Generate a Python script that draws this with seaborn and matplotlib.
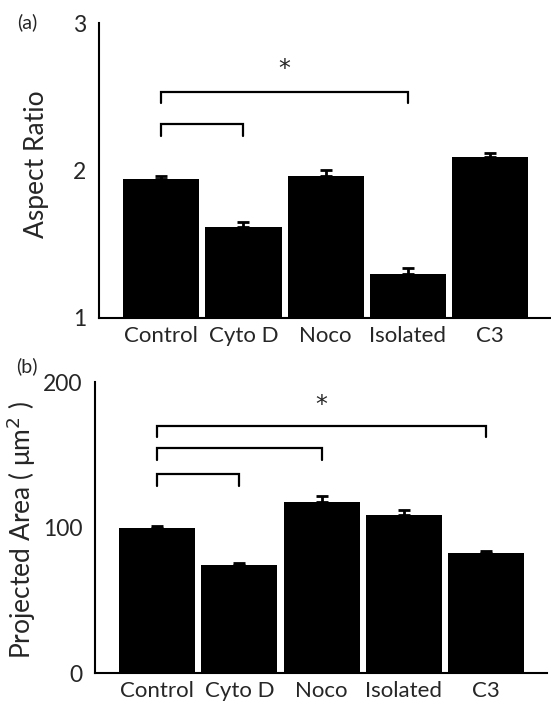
import matplotlib
matplotlib.use("Agg")
import matplotlib.pyplot as plt
import seaborn as sns
import pandas as pd
import numpy as np

categories = ["Control", "Cyto D", "Noco", "Isolated", "C3"]

aspect_ratio = [1.94, 1.62, 1.96, 1.30, 2.09]
aspect_err = [0.022, 0.032, 0.045, 0.037, 0.032]

proj_area = [99.5, 74.5, 117.5, 108.5, 82.5]
proj_err = [1.5, 1.2, 4.0, 3.5, 1.2]

# brackets: (from index, to index, bar height, leg bottom)
brackets_a = [(0, 3, 2.534, 2.458), (0, 1, 2.315, 2.234)]
star_a = (1.5, 2.69)
brackets_b = [(0, 4, 169.8, 162.4), (0, 2, 154.8, 146.4), (0, 1, 137.0, 128.7)]
star_b = (2.0, 184.0)

sns.set_style("white")
plt.rcParams["font.family"] = ["Lato", "DejaVu Sans"]

fig = plt.figure(figsize=(5.51, 7.06), dpi=100)
ax_a = fig.add_axes([0.1797, 0.5496, 0.8203, 0.4178])
ax_b = fig.add_axes([0.1724, 0.0467, 0.8203, 0.4122])

def panel(ax, vals, errs, ylim, yticks, ylabel, brackets, star, label_xy):
    df = pd.DataFrame({"cat": categories, "val": vals})
    sns.barplot(data=df, x="cat", y="val", color="black", width=0.925,
                saturation=1, errorbar=None, ax=ax)
    for p in ax.patches:
        p.set_facecolor("black")
        p.set_edgecolor("none")
    xs = np.arange(len(categories))
    ax.errorbar(xs, vals, yerr=[np.zeros(len(errs)), errs], fmt="none",
                ecolor="black", elinewidth=2, capsize=4.5, capthick=2)
    for i, j, top, bot in brackets:
        ax.plot([i, i, j, j], [bot, top, top, bot], color="black", lw=1.6,
                solid_joinstyle="miter", clip_on=False)
    ax.text(star[0], star[1], "*", ha="center", va="center", fontsize=17,
            family="DejaVu Sans")
    ax.set_ylim(*ylim)
    ax.set_yticks(yticks)
    ax.set_xlim(-0.757, 4.74)
    ax.set_xlabel("")
    ax.set_ylabel(ylabel, fontsize=19)
    ax.yaxis.set_label_coords(*label_xy)
    ax.tick_params(axis="both", length=0)
    ax.tick_params(axis="y", labelsize=16.5, pad=9)
    ax.tick_params(axis="x", labelsize=16, pad=6)
    for s in ["top", "right"]:
        ax.spines[s].set_visible(False)
    for s in ["left", "bottom"]:
        ax.spines[s].set_linewidth(1.5)
        ax.spines[s].set_color("black")

panel(ax_a, aspect_ratio, aspect_err, (1, 3), [1, 2, 3], "Aspect Ratio",
      brackets_a, star_a, (-0.11, 0.52))
panel(ax_b, proj_area, proj_err, (0, 200), [0, 100, 200],
      "Projected Area ( \u03bcm$^2$ )", brackets_b, star_b, (-0.125, 0.49))

fig.text(27 / 551, 1 - 22 / 706, "(a)", ha="center", va="center", fontsize=14)
fig.text(27 / 551, 1 - 366 / 706, "(b)", ha="center", va="center", fontsize=14)

fig.savefig("out.png", dpi=100)
